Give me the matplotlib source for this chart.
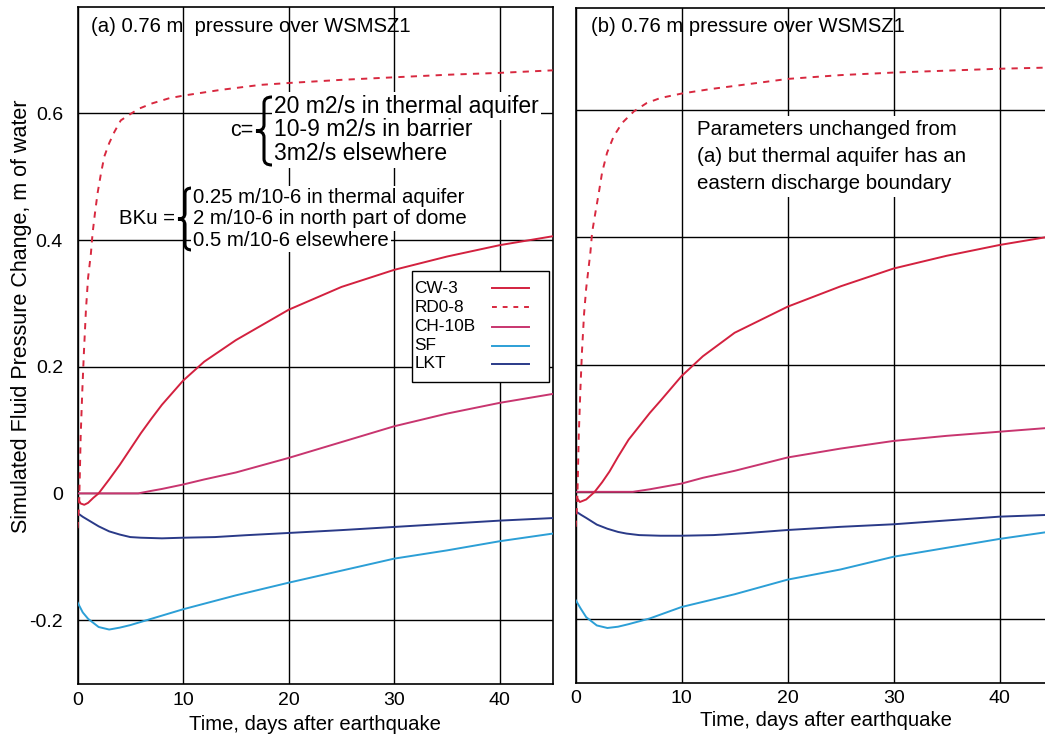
import matplotlib
matplotlib.use("Agg")
import matplotlib.pyplot as plt
from matplotlib.path import Path
from matplotlib.patches import PathPatch, Rectangle
from matplotlib.lines import Line2D

plt.rcParams['font.family'] = ['Liberation Sans', 'DejaVu Sans']
plt.rcParams['axes.unicode_minus'] = False

# ---------------- data ----------------
x_ticks = [0, 10, 20, 30, 40]
y_ticks = [-0.2, 0, 0.2, 0.4, 0.6]
y_tick_labels = ['-0.2', '0', '0.2', '0.4', '0.6']
series_names = ['CW-3', 'RD0-8', 'CH-10B', 'SF', 'LKT']

# panel (a)
t_cw3_a = [0, 0.3, 0.64, 1.0, 1.5, 2.0, 3.0, 4.0, 5.0, 6.0, 7.0, 8.0, 10, 12, 15, 20, 25, 30, 35, 40, 45]
cw3_a = [-0.008, -0.016, -0.018, -0.015, -0.007, 0.0, 0.022, 0.045, 0.07, 0.095, 0.118, 0.14,
         0.178, 0.208, 0.242, 0.29, 0.326, 0.353, 0.374, 0.392, 0.406]
t_rd08_a = [0, 0.15, 0.22, 0.3, 0.45, 0.6, 0.8, 1.0, 1.27, 1.43, 1.65, 1.9, 2.22, 2.54, 3.0, 3.5,
            4.1, 5.1, 5.9, 7.1, 8.7, 10, 13.5, 17.3, 20, 25, 30, 35, 40, 45]
rd08_a = [-0.055, -0.02, 0.03, 0.09, 0.16, 0.22, 0.29, 0.34, 0.379, 0.411, 0.442, 0.474, 0.505,
          0.532, 0.553, 0.571, 0.589, 0.6, 0.608, 0.616, 0.624, 0.628, 0.637, 0.645, 0.648,
          0.653, 0.657, 0.661, 0.664, 0.668]
t_ch10b_a = [0, 5.75, 7, 8, 10, 12, 15, 20, 25, 30, 35, 40, 45]
ch10b_a = [0, 0, 0.004, 0.007, 0.014, 0.022, 0.033, 0.056, 0.081, 0.106, 0.126, 0.143, 0.157]
t_sf_a = [0, 0.5, 1, 2, 3, 4, 5, 7, 10, 15, 20, 25, 30, 35, 40, 45]
sf_a = [-0.172, -0.188, -0.198, -0.211, -0.215, -0.212, -0.208, -0.198, -0.183, -0.161, -0.141,
        -0.122, -0.103, -0.09, -0.0755, -0.0635]
t_lkt_a = [0, 0.5, 1, 2, 3, 4, 5, 6, 8, 10, 13, 16, 20, 25, 30, 35, 40, 45]
lkt_a = [-0.031, -0.037, -0.042, -0.052, -0.06, -0.065, -0.069, -0.07, -0.071, -0.070, -0.069,
         -0.066, -0.0625, -0.058, -0.053, -0.048, -0.043, -0.039]

# panel (b)
t_cw3_b = [0, 0.4, 1.0, 1.8, 2.5, 3.2, 4.0, 5.0, 6.0, 7.0, 8.0, 10, 12, 15, 20, 25, 30, 35, 40, 45]
cw3_b = [-0.007, -0.016, -0.012, 0.0, 0.015, 0.032, 0.055, 0.082, 0.103, 0.124, 0.143, 0.182,
         0.213, 0.25, 0.291, 0.323, 0.351, 0.371, 0.388, 0.402]
t_rd08_b = [0, 0.15, 0.22, 0.3, 0.45, 0.6, 0.8, 1.0, 1.4, 1.56, 1.87, 2.19, 2.5, 2.97, 3.6, 4.4,
            5.5, 6.7, 8.0, 10, 12.7, 17.3, 20, 25, 30, 35, 40, 45]
rd08_b = [-0.055, -0.02, 0.03, 0.09, 0.16, 0.22, 0.28, 0.32, 0.377, 0.408, 0.439, 0.47, 0.502,
          0.533, 0.559, 0.58, 0.598, 0.611, 0.619, 0.626, 0.633, 0.643, 0.649, 0.655, 0.659,
          0.662, 0.665, 0.667]
t_ch10b_b = [0, 5.4, 7, 8, 10, 12, 15, 20, 25, 30, 35, 40, 45]
ch10b_b = [0, 0, 0.004, 0.007, 0.013, 0.022, 0.033, 0.054, 0.068, 0.08, 0.088, 0.0945, 0.101]
t_sf_b = [0, 0.5, 1, 2, 3, 4, 5, 7, 10, 15, 20, 25, 30, 35, 40, 45]
sf_b = [-0.17, -0.184, -0.197, -0.21, -0.214, -0.212, -0.208, -0.199, -0.181, -0.161, -0.138,
        -0.122, -0.102, -0.088, -0.074, -0.062]
t_lkt_b = [0, 0.5, 1, 2, 3, 4, 4.8, 6, 8, 10, 13, 16, 20, 25, 30, 35, 40, 45]
lkt_b = [-0.0305, -0.036, -0.041, -0.0515, -0.058, -0.063, -0.0656, -0.068, -0.069, -0.069,
         -0.068, -0.065, -0.06, -0.055, -0.051, -0.045, -0.039, -0.036]

# ---------------- style ----------------
C_CW3 = '#d3213f'
C_RD08 = '#d8283f'
C_CH10B = '#c8356f'
C_SF = '#2c9fd6'
C_LKT = '#2a3a88'
LW = 1.4

W, H = 1045, 739
fig = plt.figure(figsize=(W / 100, H / 100), dpi=100)


def px_rect(l, t, r, b):
    return [l / W, (H - b) / H, (r - l) / W, (b - t) / H]


A_L, A_T, A_R, A_B = 77.5, 7, 552.7, 684
B_L, B_T, B_R, B_B = 575.6, 8.3, 575.6 + 45 * 10.6, 682.7
axA = fig.add_axes(px_rect(A_L, A_T, A_R, A_B))
axB = fig.add_axes(px_rect(B_L, B_T, B_R, B_B))


def fa(px, py):
    return ((px - A_L) / (A_R - A_L), (A_B - py) / (A_B - A_T))


def fb(px, py):
    return ((px - B_L) / (B_R - B_L), (B_B - py) / (B_B - B_T))


def setup(ax, ylim, show_y):
    ax.set_xlim(0, 45)
    ax.set_ylim(*ylim)
    ax.set_xticks(x_ticks)
    ax.set_xticklabels([str(v) for v in x_ticks])
    ax.set_yticks(y_ticks)
    if show_y:
        ax.set_yticklabels(y_tick_labels)
    else:
        ax.set_yticklabels([])
    ax.grid(True, color='black', lw=1.0)
    ax.set_axisbelow(True)
    ax.tick_params(axis='both', length=0, labelsize=14, colors='black')
    ax.tick_params(axis='y', pad=10.5)
    ax.tick_params(axis='x', pad=5.5)
    for s in ax.spines.values():
        s.set_linewidth(1.2)
        s.set_color('black')
    ax.set_xlabel('Time, days after earthquake', fontsize=14.6)


def draw(ax, cw3, rd08, ch10b, sf, lkt):
    ax.plot(*ch10b, color=C_CH10B, lw=LW, zorder=3)
    ax.plot(*lkt, color=C_LKT, lw=LW, zorder=3)
    ax.plot(*sf, color=C_SF, lw=LW, zorder=3)
    ax.plot(*cw3, color=C_CW3, lw=LW, zorder=3)
    ax.plot(*rd08, color=C_RD08, lw=LW, ls=(0, (3.2, 3.2)), zorder=3)


setup(axA, (-0.301, 0.768), True)
setup(axB, (-0.300, 0.760), False)
draw(axA, (t_cw3_a, cw3_a), (t_rd08_a, rd08_a), (t_ch10b_a, ch10b_a), (t_sf_a, sf_a), (t_lkt_a, lkt_a))
draw(axB, (t_cw3_b, cw3_b), (t_rd08_b, rd08_b), (t_ch10b_b, ch10b_b), (t_sf_b, sf_b), (t_lkt_b, lkt_b))

axA.set_ylabel('Simulated Fluid Pressure Change, m of water', fontsize=15.5)
axA.yaxis.set_label_coords(fa(32, 0)[0], fa(0, 316)[1])
axA.xaxis.set_label_coords(0.5, fa(0, 714.5)[1])
axB.xaxis.set_label_coords(fb(826, 0)[0], fb(0, 711.5)[1])

WB = dict(facecolor='white', edgecolor='none', pad=1.5)


def txt(ax, f, px, py, s, size, ha='left', box=None):
    x, y = f(px, py)
    ax.text(x, y, s, transform=ax.transAxes, fontsize=size, ha=ha, va='center',
            color='black', bbox=box, zorder=6)


def brace(ax, f, x_tip, x_right, y_top, y_bot, y_mid):
    xt, yt = f(x_right, y_top)
    xm, ym = f(x_tip, y_mid)
    _, yb = f(x_right, y_bot)
    xs = (xt + xm) / 2
    q = (yt - yb) * 0.09
    verts = [(xt, yt), (xs, yt), (xs, yt - q),
             (xs, ym + q),
             (xs, ym), (xm, ym),
             (xs, ym), (xs, ym - q),
             (xs, yb + q),
             (xs, yb), (xt, yb)]
    codes = [Path.MOVETO, Path.CURVE3, Path.CURVE3,
             Path.LINETO,
             Path.CURVE3, Path.CURVE3,
             Path.CURVE3, Path.CURVE3,
             Path.LINETO,
             Path.CURVE3, Path.CURVE3]
    ax.add_patch(PathPatch(Path(verts, codes), transform=ax.transAxes, fill=False,
                           lw=2.2, edgecolor='black', zorder=6, capstyle='round'))


# panel (a) annotations
txt(axA, fa, 91, 26.7, '(a) 0.76 m  pressure over WSMSZ1', 14.6)
txt(axA, fa, 253, 131, 'c=', 15.5, ha='right', box=WB)
brace(axA, fa, 256, 272, 97, 165, 131)
txt(axA, fa, 274, 106, '20 m2/s in thermal aquifer', 16.5, box=WB)
txt(axA, fa, 274, 130, '10-9 m2/s in barrier', 16.5, box=WB)
txt(axA, fa, 274, 154, '3m2/s elsewhere', 16.5, box=WB)
txt(axA, fa, 175, 219, 'BKu =', 14.7, ha='right', box=WB)
brace(axA, fa, 178, 192, 188, 250, 219)
txt(axA, fa, 193, 197.5, '0.25 m/10-6 in thermal aquifer', 14.7, box=WB)
txt(axA, fa, 193, 219, '2 m/10-6 in north part of dome', 14.7, box=WB)
txt(axA, fa, 193, 240, '0.5 m/10-6 elsewhere', 14.7, box=WB)

# legend (panel a), labels left, line samples right
lx0, ly0 = fa(412, 382)
lx1, ly1 = fa(549, 271)
axA.add_patch(Rectangle((lx0, ly0), lx1 - lx0, ly1 - ly0, transform=axA.transAxes,
                        facecolor='white', edgecolor='black', lw=1.0, zorder=7))
leg_styles = [dict(color=C_CW3), dict(color=C_RD08, ls=(0, (2.5, 3.0))), dict(color=C_CH10B),
              dict(color=C_SF), dict(color=C_LKT)]
leg_y = [288, 307, 326.5, 345.5, 364]
for name, st, py in zip(series_names, leg_styles, leg_y):
    txt(axA, fa, 414.5, py, name, 12.4)
    (hx0, hy), (hx1, _) = fa(492, py), fa(529, py)
    axA.add_line(Line2D([hx0, hx1], [hy, hy], transform=axA.transAxes, lw=LW, zorder=8, **st))
for t in axA.texts[-5:]:
    t.set_zorder(8)

# panel (b) annotations
BB = dict(facecolor='white', edgecolor='none', pad=3)
txt(axB, fb, 591, 26.7, '(b) 0.76 m pressure over WSMSZ1', 14.6)
txt(axB, fb, 697, 130, 'Parameters unchanged from', 14.8, box=BB)
txt(axB, fb, 697, 156.7, '(a) but thermal aquifer has an', 14.8, box=BB)
txt(axB, fb, 697, 183.3, 'eastern discharge boundary', 14.8, box=BB)

fig.savefig('out.png', dpi=100, facecolor='white')
